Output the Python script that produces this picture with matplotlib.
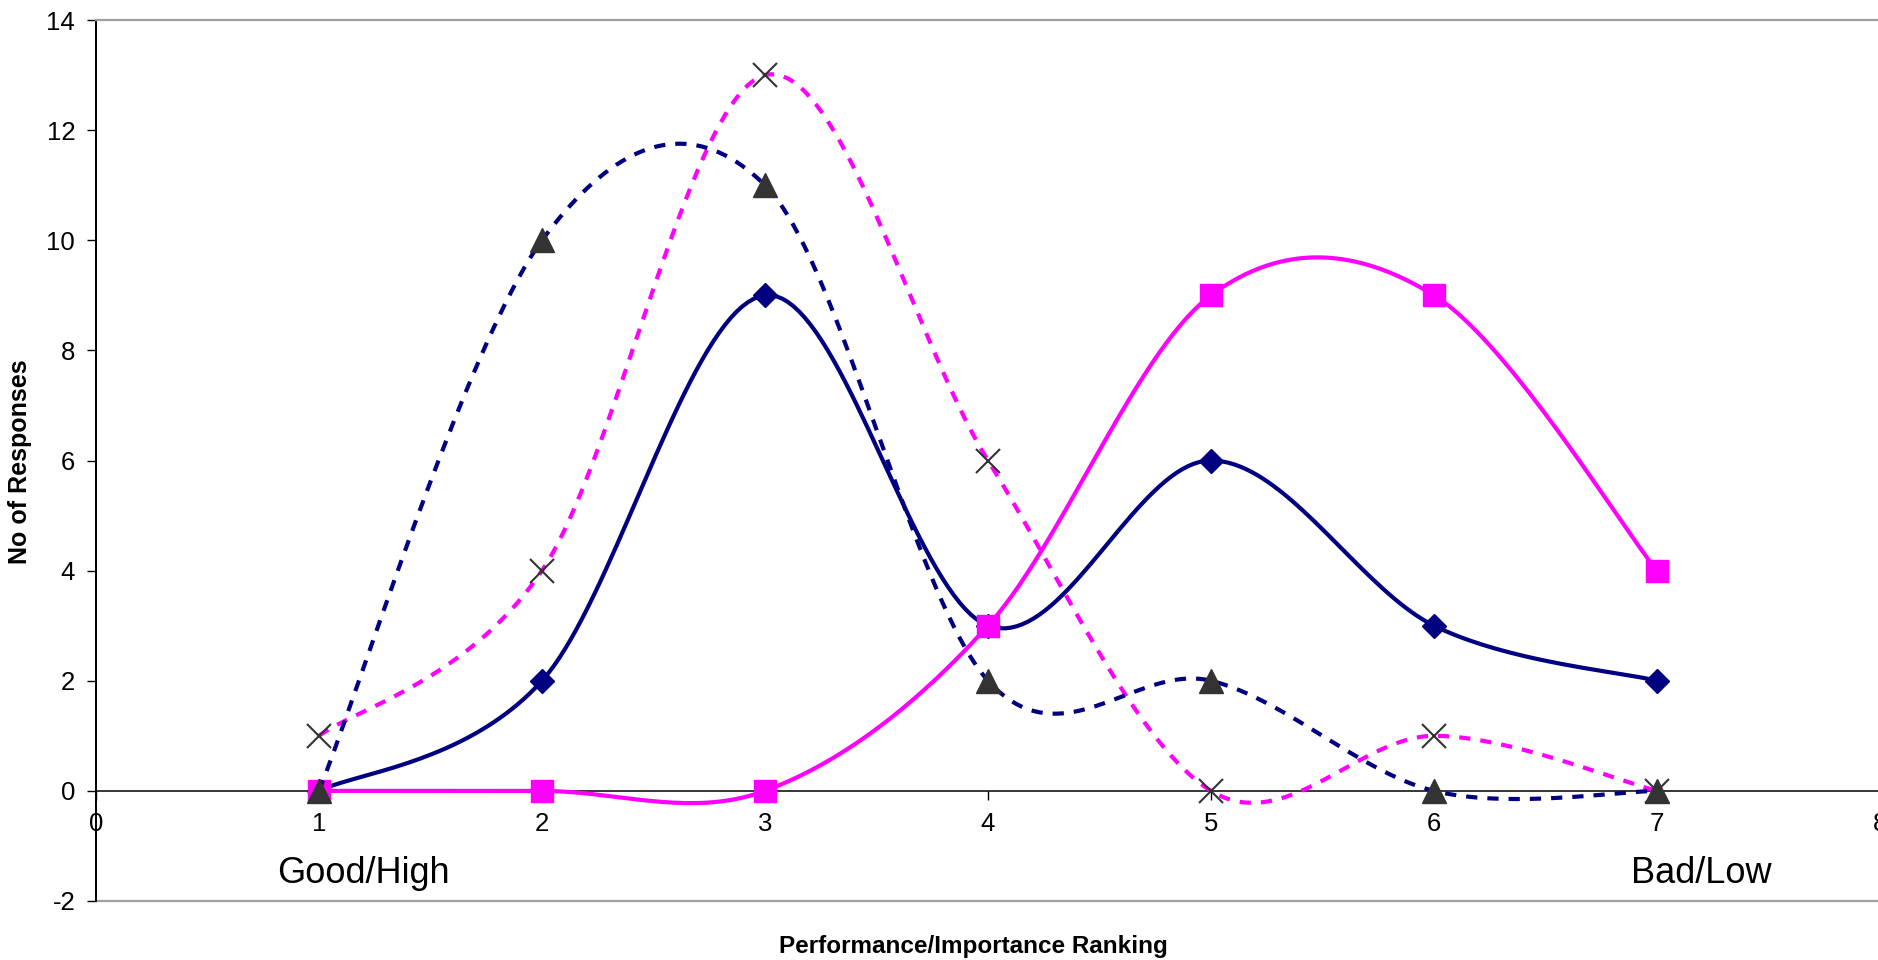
import numpy as np
import matplotlib
matplotlib.use("Agg")
import matplotlib.pyplot as plt

plt.rcParams['font.family'] = ['Liberation Sans', 'DejaVu Sans']
plt.rcParams['axes.unicode_minus'] = False

# Rankings 1 (good/high) .. 7 (bad/low) and response counts per series
ranks = [1, 2, 3, 4, 5, 6, 7]
perf_a = [0, 2, 9, 3, 6, 3, 2]        # navy solid, diamonds
perf_b = [0, 0, 0, 3, 9, 9, 4]        # magenta solid, squares
imp_b = [1, 4, 13, 6, 0, 1, 0]        # magenta dashed, crosses
imp_a = [0, 10, 11, 2, 2, 0, 0]       # navy dashed, triangles

y_ticks = [-2, 0, 2, 4, 6, 8, 10, 12, 14]
x_ticks = [0, 1, 2, 3, 4, 5, 6, 7, 8]

NAVY = '#000080'
MAGENTA = '#FF00FF'
MARK = '#333333'


def smooth(xs, ys, n=40):
    # Bezier smoothing through every point, tangents from neighbouring points
    p = np.column_stack([xs, ys]).astype(float)
    out = [p[0]]
    t = np.linspace(0, 1, n)[1:, None]
    for i in range(len(p) - 1):
        prev = p[i - 1] if i > 0 else p[i]
        nxt = p[i + 2] if i + 2 < len(p) else p[i + 1]
        c1 = p[i] + (p[i + 1] - prev) / 6
        c2 = p[i + 1] - (nxt - p[i]) / 6
        seg = ((1 - t) ** 3 * p[i] + 3 * (1 - t) ** 2 * t * c1
               + 3 * (1 - t) * t ** 2 * c2 + t ** 3 * p[i + 1])
        out.extend(seg)
    out = np.array(out)
    return out[:, 0], out[:, 1]


fig = plt.figure(figsize=(18.78, 9.6), dpi=100)
ax = fig.add_axes([96 / 1878, 59 / 960, 1784 / 1878, 881 / 960])

series = [
    (perf_a, NAVY, '-', 'D', NAVY, 12.0, 1),
    (perf_b, MAGENTA, '-', 's', MAGENTA, 16.5, 1),
    (imp_b, MAGENTA, (0, (2.7, 2.4)), 'x', MARK, 17.0, 1.5),
    (imp_a, NAVY, (0, (2.7, 2.4)), '^', MARK, 17.5, 1),
]
z = 3
for vals, col, ls, mk, mcol, ms, mew in series:
    sx, sy = smooth(ranks, vals)
    ax.plot(sx, sy, color=col, lw=3.0, ls=ls, zorder=z, clip_on=False)
    ax.plot(ranks, vals, ls='none', marker=mk, ms=ms, color=mcol,
            mec=mcol, mew=mew, zorder=z + 1, clip_on=False)
    z += 2

ax.set_xlim(0, 8)
ax.set_ylim(-2, 14)
ax.set_xticks(x_ticks)
ax.set_yticks(y_ticks)

# x axis crosses at zero, plot area framed in grey
ax.spines['bottom'].set_position(('data', 0))
ax.spines['bottom'].set_color('black')
ax.spines['bottom'].set_linewidth(1.1)
ax.spines['left'].set_linewidth(1.4)
ax.spines['right'].set_visible(False)
ax.spines['top'].set_color('#A0A0A0')
ax.spines['top'].set_linewidth(1.6)
ax.axhline(-2, color='#A0A0A0', lw=1.6, zorder=1, clip_on=False)

ax.tick_params(axis='x', direction='out', length=6.5, width=1, pad=9,
               labelsize=18.5)
ax.tick_params(axis='y', direction='out', length=6.5, width=1, pad=8.5,
               labelsize=18.5)

ax.text(1.2, -1.5, 'Good/High', fontsize=26, ha='center', va='center')
ax.text(7.2, -1.5, 'Bad/Low', fontsize=26, ha='center', va='center')

fig.text(973 / 1878, 1 - 947 / 960, 'Performance/Importance Ranking',
         fontsize=17.5, fontweight='bold', ha='center', va='center')
fig.text(20 / 1878, 1 - 462 / 960, 'No of Responses', fontsize=18,
         fontweight='bold', rotation=90, ha='center', va='center')

fig.savefig('out.png', dpi=100)
